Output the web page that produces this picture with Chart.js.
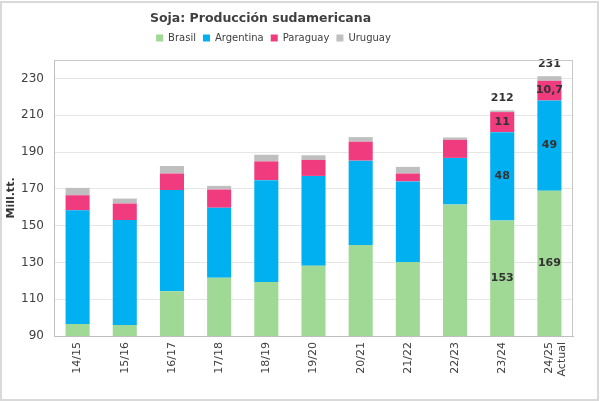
<!DOCTYPE html>
<html>
<head>
<meta charset="utf-8">
<script src="https://cdn.jsdelivr.net/npm/chart.js@4/dist/chart.umd.min.js"></script>
<style>
  body { margin: 0; background: #fff; }
</style>
</head>
<body>
<canvas id="sojaChart" width="600" height="401"></canvas>
<script>
// datos (Mill. tt.)
const seasons = ['14/15', '15/16', '16/17', '17/18', '18/19', '19/20', '20/21', '21/22', '22/23', '23/24', ['24/25', 'Actual']];
const brasil    = [96.5, 96.0, 114.3, 121.7, 119.4, 128.2, 139.4, 130.2, 161.5, 152.8, 169.0];
const argentina = [61.8, 57.0, 55.0, 38.0, 55.3, 48.8, 45.9, 43.8, 25.3, 48.0, 49.0];
const paraguay  = [8.2, 9.0, 9.0, 9.9, 10.2, 8.7, 10.3, 4.3, 9.8, 10.9, 10.7];
const uruguay   = [4.0, 2.7, 4.1, 2.0, 3.6, 2.5, 2.5, 3.6, 1.3, 0.9, 2.5];

// textos que aparecen sobre las barras
const brasilTxt    = ['', '', '', '', '', '', '', '', '', '153', '169'];
const argentinaTxt = ['', '', '', '', '', '', '', '', '', '48', '49'];
const paraguayTxt  = ['', '', '', '', '', '', '', '', '', '11', '10,7'];
const uruguayTxt   = ['', '', '', '', '', '', '', '', '', '', ''];
const totalTxt     = ['', '', '', '', '', '', '', '', '', '212', '231'];

const yTicks = [90, 110, 130, 150, 170, 190, 210, 230];

const txtBySeries = [brasilTxt, argentinaTxt, paraguayTxt, uruguayTxt];

// fondo y marco exterior
const frame = {
  id: 'frame',
  beforeDraw(chart) {
    const ctx = chart.ctx;
    ctx.save();
    ctx.fillStyle = '#fff';
    ctx.fillRect(0, 0, chart.width, chart.height);
    ctx.strokeStyle = '#d9d9d9';
    ctx.lineWidth = 2;
    ctx.strokeRect(1, 2, chart.width - 3, chart.height - 3);
    ctx.restore();
  },
  afterDraw(chart) {
    // borde superior y derecho del area del grafico
    const a = chart.chartArea, ctx = chart.ctx;
    ctx.save();
    ctx.strokeStyle = '#c8c8c8';
    ctx.lineWidth = 1;
    ctx.beginPath();
    ctx.moveTo(a.left, a.top + 0.5);
    ctx.lineTo(a.right - 0.5, a.top + 0.5);
    ctx.lineTo(a.right - 0.5, a.bottom);
    ctx.stroke();
    ctx.restore();
  }
};

// el titulo y la leyenda estan corridos a la izquierda en el original
const shiftTop = {
  id: 'shiftTop',
  afterLayout(chart) {
    chart.titleBlock.left -= 28;
    chart.titleBlock.right -= 28;
    chart.legend.left -= 15;
    chart.legend.right -= 15;
    chart.legend.top -= 7;
    chart.legend.bottom -= 7;
  }
};

// etiquetas de valores
const segLabels = {
  id: 'segLabels',
  afterDatasetsDraw(chart) {
    const ctx = chart.ctx;
    const bottom = chart.chartArea.bottom;
    ctx.save();
    ctx.font = 'bold 11px "DejaVu Sans"';
    ctx.fillStyle = '#333';
    ctx.textAlign = 'center';
    ctx.textBaseline = 'middle';
    txtBySeries.forEach((txt, i) => {
      chart.getDatasetMeta(i).data.forEach((bar, j) => {
        if (!txt[j]) return;
        const base = Math.min(bar.base, bottom);
        ctx.fillText(txt[j], bar.x, (bar.y + base) / 2);
      });
    });
    chart.getDatasetMeta(3).data.forEach((bar, j) => {
      if (totalTxt[j]) ctx.fillText(totalTxt[j], bar.x, bar.y - 12);
    });
    ctx.restore();
  }
};

new Chart('sojaChart', {
  type: 'bar',
  data: {
    labels: seasons,
    datasets: [
      { label: 'Brasil', data: brasil, backgroundColor: '#a0d995' },
      { label: 'Argentina', data: argentina, backgroundColor: '#00b0f0' },
      { label: 'Paraguay', data: paraguay, backgroundColor: '#f03c7f' },
      { label: 'Uruguay', data: uruguay, backgroundColor: '#bfbfbf' }
    ]
  },
  options: {
    responsive: false,
    animation: false,
    devicePixelRatio: 1,
    layout: { padding: { left: 4, right: 27, top: 9, bottom: 0 } },
    datasets: { bar: { categoryPercentage: 1, barPercentage: 0.51 } },
    plugins: {
      title: {
        display: true,
        text: 'Soja: Producción sudamericana',
        color: '#404040',
        font: { family: '"DejaVu Sans"', size: 12.5, weight: 'bold' },
        padding: { top: 2, bottom: 7 }
      },
      legend: {
        position: 'top',
        labels: {
          color: '#404040',
          font: { family: '"DejaVu Sans"', size: 10 },
          boxWidth: 7,
          boxHeight: 7,
          padding: 7
        }
      },
      tooltip: { enabled: false }
    },
    scales: {
      x: {
        stacked: true,
        grid: { display: false, drawTicks: false },
        border: { color: '#bfbfbf' },
        ticks: {
          color: '#404040',
          font: { family: '"DejaVu Sans"', size: 11 },
          minRotation: 90,
          maxRotation: 90,
          padding: 6
        },
        afterFit(scale) { scale.height = 65; }
      },
      y: {
        stacked: true,
        min: 90,
        max: 240,
        grid: { color: '#e6e6e6', drawTicks: false },
        border: { color: '#bfbfbf' },
        title: {
          display: true,
          text: 'Mill.tt.',
          color: '#333',
          font: { family: '"DejaVu Sans"', size: 11, weight: 'bold' },
          padding: { top: 1, bottom: 0 }
        },
        afterBuildTicks(scale) {
          scale.ticks = yTicks.concat([240]).map(v => ({ value: v }));
        },
        ticks: {
          color: '#404040',
          font: { family: '"DejaVu Sans"', size: 12 },
          padding: 10,
          callback: v => (yTicks.includes(v) ? v : '')
        },
        afterFit(scale) { scale.width = 50; }
      }
    }
  },
  plugins: [frame, shiftTop, segLabels]
});
</script>
</body>
</html>
